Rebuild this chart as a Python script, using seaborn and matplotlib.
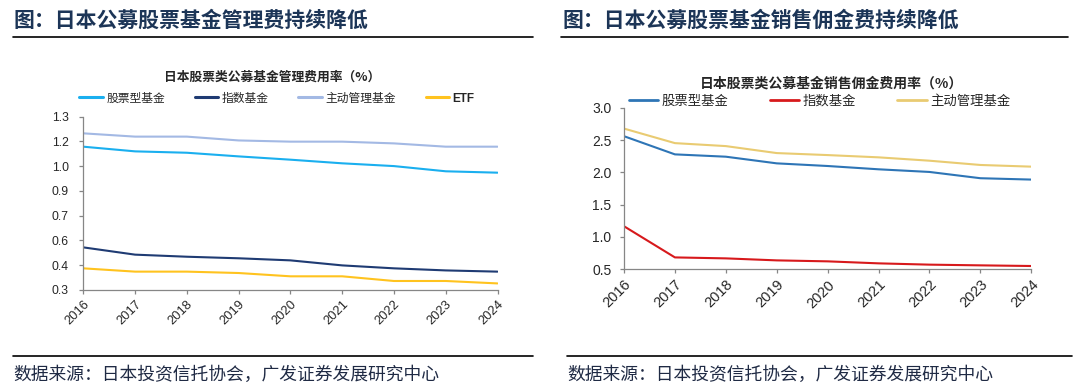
import numpy as np
import pandas as pd
import matplotlib
matplotlib.use("Agg")
import matplotlib.pyplot as plt
from matplotlib.lines import Line2D
from matplotlib.ticker import FormatStrFormatter
import seaborn as sns

# ---------------- data ----------------
years = [2016, 2017, 2018, 2019, 2020, 2021, 2022, 2023, 2024]

# left: management fee rate (%)
mgmt_series = ["股票型基金", "指数基金", "主动管理基金", "ETF"]
mgmt_stock = [1.127, 1.100, 1.092, 1.071, 1.052, 1.031, 1.015, 0.985, 0.977]
mgmt_index = [0.546, 0.504, 0.492, 0.483, 0.471, 0.442, 0.425, 0.413, 0.406]
mgmt_active = [1.204, 1.185, 1.185, 1.163, 1.156, 1.156, 1.146, 1.127, 1.127]
mgmt_etf = [0.425, 0.406, 0.406, 0.398, 0.379, 0.379, 0.352, 0.352, 0.338]

# right: sales commission rate (%)
sales_series = ["股票型基金", "指数基金", "主动管理基金"]
sales_stock = [2.559, 2.278, 2.242, 2.139, 2.098, 2.047, 2.006, 1.909, 1.888]
sales_index = [1.166, 0.684, 0.669, 0.638, 0.623, 0.592, 0.572, 0.561, 0.551]
sales_active = [2.677, 2.452, 2.406, 2.298, 2.267, 2.232, 2.180, 2.114, 2.088]

left_header = "图：日本公募股票基金管理费持续降低"
right_header = "图：日本公募股票基金销售佣金费持续降低"
left_title = "日本股票类公募基金管理费用率（%）"
right_title = "日本股票类公募基金销售佣金费用率（%）"
source = "数据来源：日本投资信托协会，广发证券发展研究中心"

left_colors = ["#1AAFEF", "#1F3B73", "#A3B9E4", "#FFC31F"]
right_colors = ["#2E75B6", "#D7191C", "#E9CB72"]

# ---------------- style ----------------
sns.set_style("white")
plt.rcParams["font.family"] = ["Liberation Sans", "Noto Sans CJK SC"]
CJK = ["Noto Sans CJK SC", "Liberation Sans"]

W, H = 1079, 391
fig = plt.figure(figsize=(W / 100, H / 100), dpi=100)


def fx(px):
    return px / W


def fy(py):
    return 1 - py / H


def make_df(series, arrays):
    rows = []
    for name, vals in zip(series, arrays):
        for y, v in zip(years, vals):
            rows.append({"year": y, "value": v, "series": name})
    return pd.DataFrame(rows)


df_left = make_df(mgmt_series, [mgmt_stock, mgmt_index, mgmt_active, mgmt_etf])
df_right = make_df(sales_series, [sales_stock, sales_index, sales_active])

spine_col = "#868686"
tick_col = "#262626"


def style_axes(ax, xfs, yfs, ypad):
    for s in ["top", "right"]:
        ax.spines[s].set_visible(False)
    for s in ["left", "bottom"]:
        ax.spines[s].set_color(spine_col)
        ax.spines[s].set_linewidth(0.9)
    ax.set_xlim(years[0], years[-1])
    ax.set_xticks(years)
    ax.set_xticklabels([str(y) for y in years], rotation=45, ha="right",
                       rotation_mode="anchor", fontsize=xfs, color=tick_col)
    ax.tick_params(axis="x", length=3, width=0.9, color=spine_col, pad=3,
                   bottom=True, direction="out")
    ax.tick_params(axis="y", length=3, width=0.9, color=spine_col, pad=ypad,
                   left=True, direction="out", labelsize=yfs, labelcolor=tick_col)
    ax.yaxis.set_major_formatter(FormatStrFormatter("%.1f"))
    ax.set_xlabel("")
    ax.set_ylabel("")
    ax.grid(False)


# ---------------- left chart ----------------
axL = fig.add_axes([fx(83.3), fy(290), fx(497.5 - 83.3), (290 - 116.7) / H])
sns.lineplot(data=df_left, x="year", y="value", hue="series",
             hue_order=mgmt_series, palette=left_colors, ax=axL,
             legend=False, linewidth=1.5)
axL.set_ylim(0.3, 1.3)
axL.set_yticks(np.linspace(0.3, 1.3, 8))
style_axes(axL, 9.3, 8.7, 7.5)

handlesL = [Line2D([], [], color=c, lw=2.2) for c in left_colors]
legL = fig.legend(handlesL, mgmt_series, ncol=4, loc="center",
                  bbox_to_anchor=(fx(277), fy(98)), frameon=False,
                  prop={"family": CJK, "size": 8.5},
                  handlelength=2.0, handletextpad=0.3, columnspacing=2.5)
for t in legL.get_texts():
    if t.get_text() == "ETF":
        t.set_fontfamily(["Liberation Sans"])
        t.set_fontweight("bold")

fig.text(fx(272.5), fy(77.5), left_title, ha="center", va="center",
         fontsize=9.2, fontweight="bold", family=CJK, color="#262626")

# ---------------- right chart ----------------
axR = fig.add_axes([fx(624), fy(269.3), fx(1031.3 - 624), (269.3 - 107.7) / H])
sns.lineplot(data=df_right, x="year", y="value", hue="series",
             hue_order=sales_series, palette=right_colors, ax=axR,
             legend=False, linewidth=1.5)
axR.set_ylim(0.5, 3.0)
axR.set_yticks([0.5, 1.0, 1.5, 2.0, 2.5, 3.0])
style_axes(axR, 10.5, 10, 6)

handlesR = [Line2D([], [], color=c, lw=2.0) for c in right_colors]
fig.legend(handlesR, sales_series, ncol=3, loc="center",
           bbox_to_anchor=(fx(819.5), fy(101)), frameon=False,
           prop={"family": CJK, "size": 9.6},
           handlelength=2.2, handletextpad=0.25, columnspacing=3.1)

fig.text(fx(832), fy(83.3), right_title, ha="center", va="center",
         fontsize=10, fontweight="bold", family=CJK, color="#262626")

# ---------------- headers / footers ----------------
head_col = "#1C3557"
fig.text(fx(13.6), fy(20.4), left_header, ha="left", va="center",
         fontsize=15, fontweight="bold", family=CJK, color=head_col)
fig.text(fx(563), fy(20.4), right_header, ha="left", va="center",
         fontsize=15, fontweight="bold", family=CJK, color=head_col)

for (x0, x1, y) in [(13, 533, 36.7), (561, 1068, 36.7),
                    (13, 533, 356), (567, 1072, 356)]:
    fig.add_artist(Line2D([fx(x0), fx(x1)], [fy(y), fy(y)],
                          transform=fig.transFigure, color="black", lw=1.2))

fig.text(fx(13), fy(374.5), source, ha="left", va="center",
         fontsize=12.8, family=CJK, color="#1F2A44")
fig.text(fx(567), fy(374.5), source, ha="left", va="center",
         fontsize=12.8, family=CJK, color="#1F2A44")

fig.savefig("out.png", dpi=100)
